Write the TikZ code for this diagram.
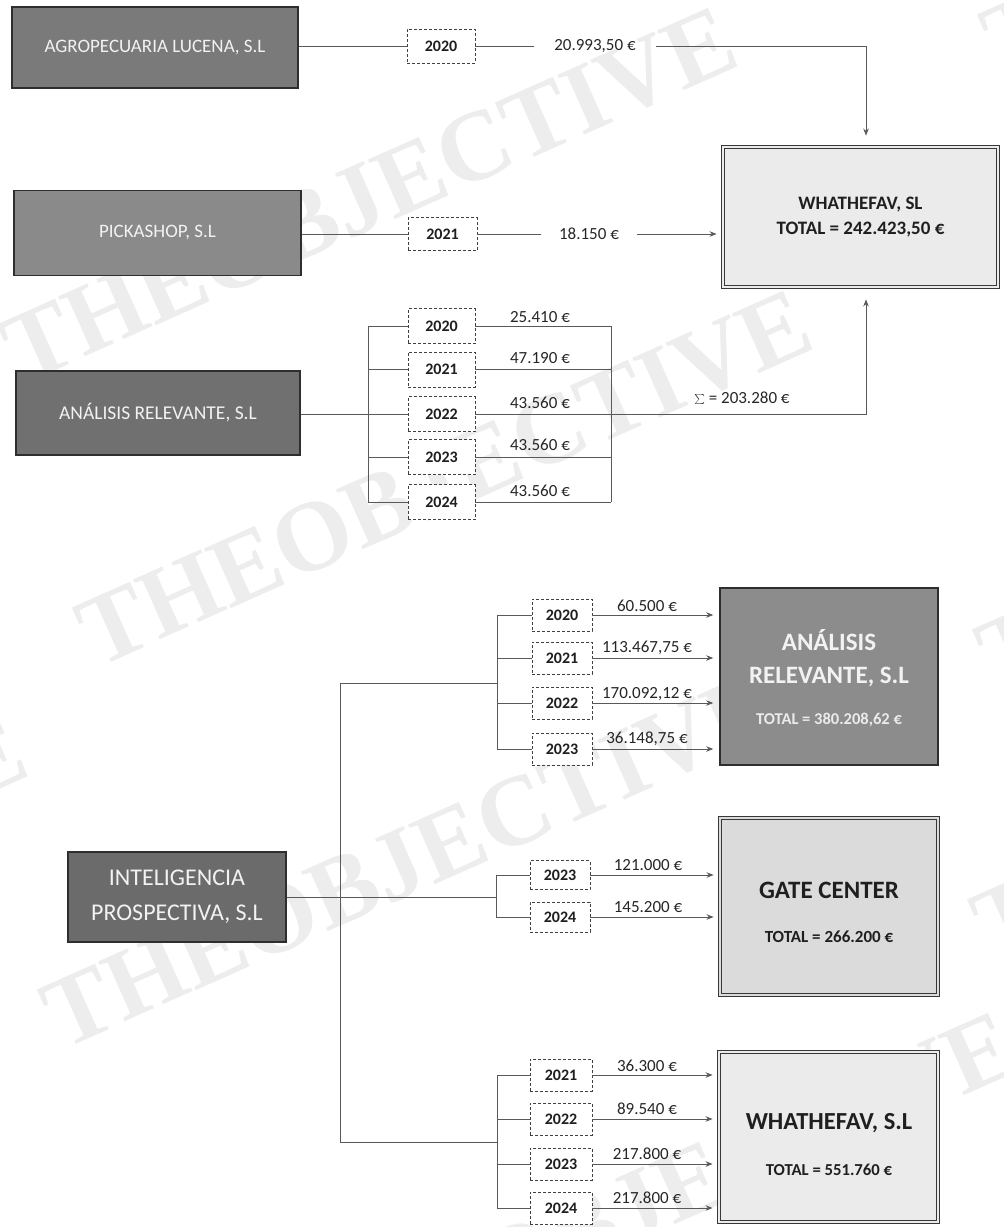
\documentclass[tikz,border=0pt]{standalone}
\usepackage{fontspec}
\setmainfont{Carlito}
\newfontfamily\wmfont{Liberation Serif}
\usetikzlibrary{arrows.meta}
\begin{document}
\begin{tikzpicture}[x=1pt,y=-1pt,
  darkbox/.style={draw=black!82, line width=1.6pt, text=black!5, align=center, inner sep=0pt},
  lightbox/.style={draw=black!78, line width=0.9pt, double=black!8, double distance=2.4pt, fill=black!8, text=black!88, align=center, inner sep=0pt},
  yearbox/.style={draw=black!75, densely dashed, line width=0.6pt, fill=white, text=black!88, font=\fontsize{16}{16}\selectfont\bfseries, inner sep=0pt},
  val/.style={font=\fontsize{17}{17}\selectfont, text=black!85, inner sep=0pt},
  conn/.style={draw=black!65, line width=0.8pt},
  arr/.style={conn, -{Stealth[length=7pt,width=5.5pt]}, shorten >=6pt},
  wm/.style={font=\wmfont\bfseries\fontsize{100}{100}\selectfont, text=black!7, rotate=24, inner sep=0pt}
]
\useasboundingbox (0,0) rectangle (1004,1227);
\begin{scope}
\clip (0,0) rectangle (1004,1227);
\node[wm] (wmA) at (370,195) {THEOBJECTIVE};
\node[wm] (wmB) at (445,478) {THEOBJECTIVE};
\node[wm] (wmC) at (410,860) {THEOBJECTIVE};
\node[wm] (wmD) at (650,1200) {THEOBJECTIVE};
\node[wm] (wmE) at (1345,500) {THEOBJECTIVE};
\node[wm] (wmF) at (1340,770) {THEOBJECTIVE};
\node[wm] (wmG) at (1350,-115) {THEOBJECTIVE};
\node[wm] (wmH) at (-340,905) {THEOBJECTIVE};
\end{scope}

% ---------- top part ----------
\node[darkbox, fill=black!52, minimum width=286pt, minimum height=81pt, font=\fontsize{19}{19}\selectfont] (agro) at (155,47.5) {AGROPECUARIA LUCENA, S.L};
\node[darkbox, fill=black!46, minimum width=287pt, minimum height=85pt, font=\fontsize{19}{19}\selectfont] (pick) at (157.5,233) {PICKASHOP, S.L};
\node[darkbox, fill=black!56, minimum width=284pt, minimum height=84pt, font=\fontsize{19.5}{19.5}\selectfont] (anaL) at (158,413) {ANÁLISIS RELEVANTE, S.L};

\node[lightbox, minimum width=275pt, minimum height=140pt, font=\fontsize{19}{25}\selectfont\bfseries] (whatT) at (860.5,217) {WHATHEFAV, SL\\TOTAL = 242.423,50 €};

\node[yearbox, minimum width=68pt, minimum height=34pt] (y20a) at (441,46) {2020};
\node[yearbox, minimum width=69pt, minimum height=33pt] (y21a) at (442.5,234) {2021};

\node[yearbox, minimum width=67pt, minimum height=35pt] (y20b) at (441.5,326) {2020};
\node[yearbox, minimum width=67pt, minimum height=35pt] (y21b) at (441.5,369.5) {2021};
\node[yearbox, minimum width=67pt, minimum height=35pt] (y22b) at (441.5,414) {2022};
\node[yearbox, minimum width=67pt, minimum height=35pt] (y23b) at (441.5,457) {2023};
\node[yearbox, minimum width=67pt, minimum height=35pt] (y24b) at (441.5,502) {2024};

\node[val, inner xsep=20pt] (vA) at (595,46) {20.993,50 €};
\node[val, inner xsep=18pt] (vB) at (589,234) {18.150 €};

\draw[conn] (y20a.west -| agro.east) -- (y20a.west);
\draw[conn] (y20a.east) -- (vA.west);
\draw[arr, shorten >=11pt] (vA.east) -| ([xshift=5.5pt]whatT.north);

\draw[conn] (y21a.west -| pick.east) -- (y21a.west);
\draw[conn] (y21a.east) -- (vB.west);
\draw[arr] (vB.east) -- (vB.east -| whatT.west);

\coordinate (lbT) at (368,326);
\coordinate (lbB) at (368,502);
\coordinate (rbT) at (611,326);
\coordinate (rbB) at (611,502);
\draw[conn] (lbT) -- (lbB);
\draw[conn] (rbT) -- (rbB);
\draw[conn] (y22b.west -| anaL.east) -- (y22b.west);
\foreach \n in {y20b,y21b,y23b,y24b} {
  \draw[conn] (\n.west -| lbT) -- (\n.west);
}
\foreach \n in {y20b,y21b,y23b,y24b} {
  \draw[conn] (\n.east) -- (\n.east -| rbT);
}
\draw[arr, shorten >=12pt] (y22b.east) -| ([xshift=5.5pt]whatT.south);

\node[val] (v20b) at (540,317) {25.410 €};
\node[val] (v21b) at (540,358) {47.190 €};
\node[val] (v22b) at (540,403) {43.560 €};
\node[val] (v23b) at (540,445) {43.560 €};
\node[val] (v24b) at (540,491) {43.560 €};
\node[val] (sum) at (742,398) {$\sum$ = 203.280 €};

% ---------- bottom part ----------
\node[darkbox, fill=black!58, minimum width=218pt, minimum height=90pt, font=\fontsize{24}{35}\selectfont] (inte) at (177,897) {INTELIGENCIA\\PROSPECTIVA, S.L};

\node[darkbox, fill=black!45, minimum width=218pt, minimum height=177pt] (anaR) at (829,676.5) {};
\node[align=center, inner sep=0pt, text=black!5, font=\fontsize{25}{33}\selectfont\bfseries] (anaRt) at (829,658.5) {ANÁLISIS\\RELEVANTE, S.L};
\node[inner sep=0pt, text=black!8, font=\fontsize{16.5}{16.5}\selectfont\bfseries] (anaRs) at (829,720) {TOTAL = 380.208,62 €};

\node[lightbox, fill=black!14, double=black!14, minimum width=218pt, minimum height=177pt] (gate) at (829,906.5) {};
\node[inner sep=0pt, text=black!88, font=\fontsize{25}{25}\selectfont\bfseries] (gatet) at (829,890) {GATE CENTER};
\node[inner sep=0pt, text=black!88, font=\fontsize{17}{17}\selectfont\bfseries] (gates) at (829,937) {TOTAL = 266.200 €};

\node[lightbox, minimum width=219pt, minimum height=170pt] (whatB) at (828.5,1137) {};
\node[inner sep=0pt, text=black!88, font=\fontsize{24.5}{24.5}\selectfont\bfseries] (whatBt) at (829,1123) {WHATHEFAV, S.L};
\node[inner sep=0pt, text=black!88, font=\fontsize{16.7}{16.7}\selectfont\bfseries] (whatBs) at (829,1170) {TOTAL = 551.760 €};

% year boxes
\node[yearbox, minimum width=60pt, minimum height=32pt] (r20) at (562,615) {2020};
\node[yearbox, minimum width=60pt, minimum height=32pt] (r21) at (562,658) {2021};
\node[yearbox, minimum width=60pt, minimum height=32pt] (r22) at (562,703) {2022};
\node[yearbox, minimum width=60pt, minimum height=32pt] (r23) at (562,749) {2023};

\node[yearbox, minimum width=60pt, minimum height=29pt] (g23) at (560,875) {2023};
\node[yearbox, minimum width=60pt, minimum height=30pt] (g24) at (560,917) {2024};

\node[yearbox, minimum width=62pt, minimum height=32pt] (w21) at (561,1075) {2021};
\node[yearbox, minimum width=62pt, minimum height=32pt] (w22) at (561,1119) {2022};
\node[yearbox, minimum width=62pt, minimum height=32pt] (w23) at (561,1164) {2023};
\node[yearbox, minimum width=62pt, minimum height=32pt] (w24) at (561,1208) {2024};

% trunk
\coordinate (tT) at (340,683);
\coordinate (tB) at (340,1142);
\coordinate (aT) at (497,615);
\coordinate (aB) at (497,749);
\coordinate (gT) at (496,875);
\coordinate (gB) at (496,917);
\coordinate (wT) at (497,1075);
\coordinate (wB) at (497,1208);

\draw[conn] (tT) -- (tB);
\draw[conn] (tT) -- (tT -| aT);
\draw[conn] (tB) -- (tB -| wT);
\draw[conn] (inte.east |- 0,897) -- (gT |- 0,897);
\draw[conn] (aT) -- (aB);
\draw[conn] (gT) -- (gB);
\draw[conn] (wT) -- (wB);

\foreach \n in {r20,r21,r22,r23} {
  \draw[conn] (\n.west -| aT) -- (\n.west);
  \draw[arr] (\n.east) -- (\n.east -| anaR.west);
}
\foreach \n in {g23,g24} {
  \draw[conn] (\n.west -| gT) -- (\n.west);
  \draw[arr] (\n.east) -- (\n.east -| gate.west);
}
\foreach \n in {w21,w22,w23,w24} {
  \draw[conn] (\n.west -| wT) -- (\n.west);
  \draw[arr] (\n.east) -- (\n.east -| whatB.west);
}

\node[val] (vr20) at (647,606) {60.500 €};
\node[val] (vr21) at (647,648) {113.467,75 €};
\node[val] (vr22) at (647,694) {170.092,12 €};
\node[val] (vr23) at (647,739) {36.148,75 €};

\node[val] (vg23) at (648,865) {121.000 €};
\node[val] (vg24) at (648,907) {145.200 €};

\node[val] (vw21) at (647,1066) {36.300 €};
\node[val] (vw22) at (647,1109) {89.540 €};
\node[val] (vw23) at (647,1154) {217.800 €};
\node[val] (vw24) at (647,1198) {217.800 €};
\end{tikzpicture}
\end{document}
